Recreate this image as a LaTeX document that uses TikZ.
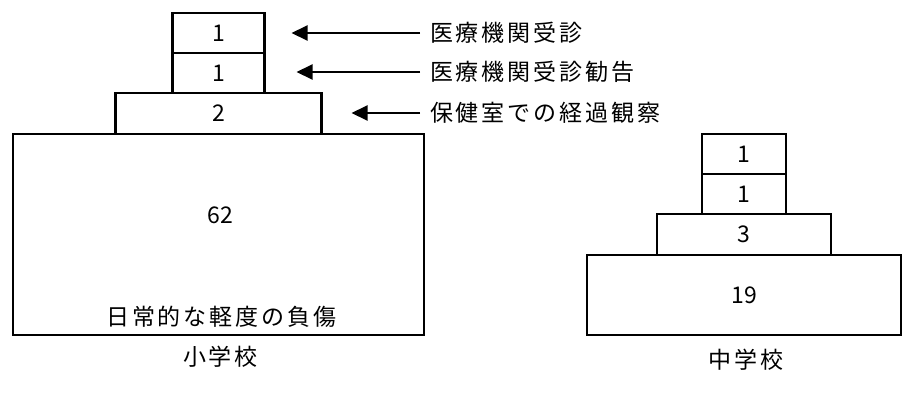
\documentclass[tikz,border=0pt]{standalone}
\usepackage{fontspec}
\newfontfamily\jpfont[LetterSpace=13]{Noto Sans CJK JP}
\newfontfamily\numfont{Noto Sans CJK JP}
\usepackage{tikz}
\usetikzlibrary{
    arrows.meta,
    positioning,
    calc
}

\begin{document}
\begin{tikzpicture}[
    x=1pt, y=-1pt,
    every node/.style={font=\jpfont\fontsize{23}{27}\selectfont, inner sep=0pt, outer sep=0pt},
    tier/.style={draw=black, line width=2.6pt, minimum height=40pt, font=\numfont\fontsize{23}{27}\selectfont},
    num/.style={font=\numfont\fontsize{23}{27}\selectfont},
    ptr/.style={-{Triangle[length=16pt, width=15pt]}, line width=2pt, shorten <=10pt}
]
\useasboundingbox (0,0) rectangle (908,410);

% ==================== 小学校 ====================
\node[tier, minimum width=411pt, minimum height=201pt] (pbase) at (218.5, 234.5) {};
\node[tier, minimum width=206pt, minimum height=41pt, above=0pt of pbase] (pobs) {2};
\node[tier, minimum width=92pt, above=0pt of pobs] (prec) {1};
\node[tier, minimum width=92pt, above=0pt of prec] (pvis) {1};
\node[num] (p62) at ($(pbase.north)+(2,81)$) {62};
\node (pminor) at ($(pbase.south)+(3,-18)$) {日常的な軽度の負傷};
\node (pname) at ($(pbase.south)+(2,22)$) {小学校};

% labels and arrows
\node[anchor=west] (lvis) at (430, 33) {医療機関受診};
\node[anchor=west] (lrec) at (430, 72) {医療機関受診勧告};
\node[anchor=west] (lobs) at (430, 113) {保健室での経過観察};
\draw[ptr, shorten >=27pt] (lvis.west) -- (pvis.east |- lvis.west);
\draw[ptr, shorten >=32pt] (lrec.west) -- (prec.east |- lrec.west);
\draw[ptr, shorten >=30pt] (lobs.west) -- (pobs.east |- lobs.west);

% ==================== 中学校 ====================
\node[tier, minimum width=314pt, minimum height=80pt] (jbase) at (744, 295) {19};
\node[tier, minimum width=174pt, minimum height=41pt, above=0pt of jbase] (jobs) {3};
\node[tier, minimum width=84pt, above=0pt of jobs] (jrec) {1};
\node[tier, minimum width=84pt, above=0pt of jrec] (jvis) {1};
\node (jname) at ($(jbase.south)+(2,25)$) {中学校};

\end{tikzpicture}
\end{document}
